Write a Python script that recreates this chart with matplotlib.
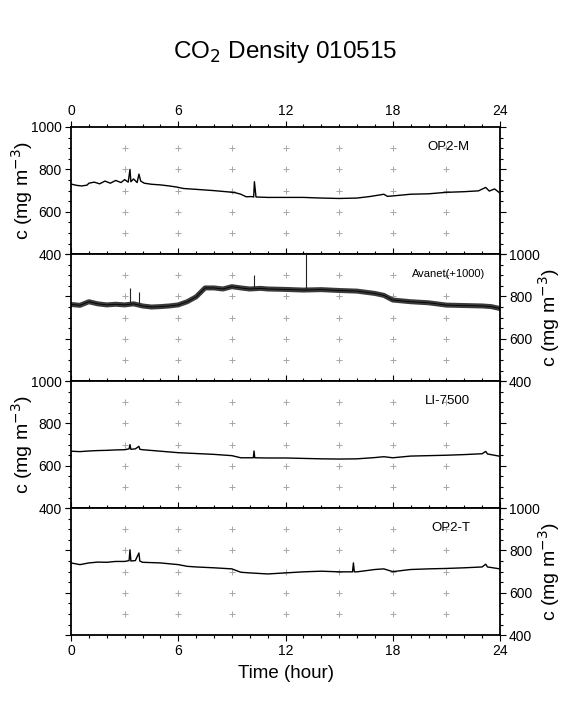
import matplotlib
matplotlib.use("Agg")
import matplotlib.pyplot as plt
import numpy as np
from matplotlib.ticker import MultipleLocator

plt.rcParams['font.family'] = ['Liberation Sans', 'DejaVu Sans']

# ---------------- data ----------------
title = "CO$_2$ Density 010515"
panel_names = ["OP2-M", "Avanet(+1000)", "LI-7500", "OP2-T"]
x_ticks = [0, 6, 12, 18, 24]
y_ticks = [400, 600, 800, 1000]

# OP2-M
t_m = [0, 0.3, 0.6, 0.9, 1.0, 1.3, 1.6, 1.9, 2.2, 2.5, 2.8, 3.0, 3.2, 3.3, 3.35, 3.5, 3.7, 3.8, 3.9, 4.1,
       4.5, 5.0, 5.5, 5.9, 6.3, 7.0, 8.0, 8.8, 9.2, 9.5, 9.8, 10.1, 10.22, 10.26, 10.35, 11.0, 12.0,
       13.0, 14.0, 15.0, 16.0, 16.7, 17.3, 17.5, 17.7, 18.0, 19.0, 20.0, 21.0, 22.0, 22.8, 23.2, 23.4, 23.7, 24.0]
c_m = [731, 725, 722, 726, 735, 740, 732, 745, 735, 748, 738, 752, 740, 800, 742, 755, 738, 778, 745, 735,
       730, 727, 722, 717, 710, 706, 700, 694, 690, 683, 671, 672, 670, 742, 670, 668, 668,
       668, 665, 663, 665, 672, 680, 683, 673, 675, 683, 685, 692, 695, 699, 715, 698, 708, 688]

# Avanet (+1000): band and its thin spikes
t_a = [0, 0.5, 1.0, 1.5, 2.0, 2.5, 3.0, 3.5, 4.0, 4.5, 5.0, 5.5, 6.0, 6.5, 7.0,
       7.5, 8.0, 8.5, 9.0, 9.5, 10.0, 10.6, 11.0, 12.0, 13.0, 14.0,
       15.0, 16.0, 17.0, 17.5, 18.0, 19.0, 20.0, 21.0, 22.0, 23.0, 23.5, 24.0]
c_a = [762, 758, 775, 765, 760, 763, 760, 765, 755, 750, 752, 755, 760, 775, 798,
       840, 840, 835, 846, 840, 835, 838, 835, 833, 830, 832,
       828, 825, 814, 805, 783, 775, 770, 759, 757, 755, 752, 743]
t_a_spk = [3.3, 3.8, 10.22, 13.16]
c_a_spk = [840, 820, 900, 1000]

# LI-7500
t_l = [0, 0.5, 1.0, 1.5, 2.0, 2.5, 3.0, 3.25, 3.3, 3.35, 3.6, 3.8, 3.85, 4.0, 5.0, 6.0, 7.0, 8.0, 9.0, 9.5,
       10.0, 10.2, 10.24, 10.28, 11.0, 12.0, 13.0, 14.0, 15.0, 16.0, 17.0, 17.5, 18.0, 19.0, 20.0, 21.0,
       22.0, 23.0, 23.2, 23.3, 24.0]
c_l = [669, 667, 670, 672, 673, 675, 676, 680, 700, 678, 680, 692, 678, 676, 669, 662, 658, 654, 648, 638,
       638, 638, 670, 638, 637, 637, 635, 633, 632, 633, 639, 643, 638, 646, 648, 650,
       653, 657, 668, 656, 645]

# OP2-T
t_t = [0, 0.5, 1.0, 1.5, 2.0, 2.5, 3.0, 3.25, 3.3, 3.35, 3.6, 3.8, 3.85, 4.0, 5.0, 6.0, 6.5, 7.0, 8.0, 9.0,
       9.5, 10.0, 11.0, 12.0, 13.0, 14.0, 15.0, 15.75, 15.8, 15.85, 16.0, 17.0, 17.5, 18.0, 19.0, 20.0,
       21.0, 22.0, 23.0, 23.2, 23.3, 24.0]
c_t = [741, 733, 741, 745, 744, 748, 748, 752, 803, 750, 752, 788, 750, 744, 741, 733, 725, 722, 718, 713,
       697, 694, 689, 694, 699, 702, 699, 699, 741, 699, 699, 710, 713, 700, 710, 713,
       715, 718, 722, 735, 722, 713]

series = [(t_m, c_m), (t_a, c_a), (t_l, c_l), (t_t, c_t)]
cross_x = [3, 6, 9, 12, 15, 18, 21]
cross_y = [500, 600, 700, 800, 900]

# ---------------- figure ----------------
W, H = 569, 709
fig = plt.figure(figsize=(W / 100, H / 100), dpi=100)
left_px, right_px = 71, 500
tops = [127, 254, 381, 508]
ph = 127.25

fig.text(285 / W, 1 - 52 / H, title, ha='center', va='center', fontsize=17.5)

axes = []
for i, (t, c) in enumerate(series):
    top = tops[i]
    ax = fig.add_axes([left_px / W, 1 - (top + ph) / H, (right_px - left_px) / W, ph / H])
    axes.append(ax)
    ax.set_xlim(0, 24)
    ax.set_ylim(400, 1000)
    # grid crosses
    gx = [x for x in cross_x for _ in cross_y]
    gy = [y for _ in cross_x for y in cross_y]
    ax.plot(gx, gy, linestyle='none', marker='+', markersize=5, color='#a8a8a8',
            markeredgewidth=0.7, zorder=1)
    if i == 1:
        ax.plot(t, c, color='#3a3a3a', lw=3.6, solid_joinstyle='round', zorder=2)
        ax.plot(t, c, color='black', lw=0.6, zorder=3)
        base = np.interp(t_a_spk, t, c)
        ax.vlines(t_a_spk, base, c_a_spk, color='#222222', lw=0.8, zorder=3)
    else:
        ax.plot(t, c, color='black', lw=1.0, zorder=2)
    label_kw = dict(transform=ax.transAxes, ha='right', va='center')
    if i == 1:
        ax.text(0.965, 0.84, panel_names[i], fontsize=8, **label_kw)
    else:
        ax.text(0.93, 0.84, panel_names[i], fontsize=9.5, **label_kw)

    ax.xaxis.set_minor_locator(MultipleLocator(1))
    ax.yaxis.set_minor_locator(MultipleLocator(50))
    ax.set_xticks(x_ticks)
    ax.set_yticks(y_ticks)
    ax.tick_params(which='both', direction='out', top=True, bottom=True, left=True, right=True,
                   labeltop=(i == 0), labelbottom=(i == 3),
                   labelleft=(i % 2 == 0), labelright=(i % 2 == 1),
                   labelsize=10, width=0.8, pad=2)
    ax.tick_params(which='major', length=4.5)
    ax.tick_params(which='minor', length=2.5)
    for s in ax.spines.values():
        s.set_linewidth(1.3)
    ylab = "c (mg m$^{-3}$)"
    if i % 2 == 0:
        ax.set_ylabel(ylab, fontsize=14)
        ax.yaxis.set_label_coords(-0.083, 0.5)
    else:
        ax.yaxis.set_label_position('right')
        ax.set_ylabel(ylab, fontsize=14, rotation=90)
        ax.yaxis.set_label_coords(1.084, 0.5)

axes[3].set_xlabel("Time (hour)", fontsize=13.5, labelpad=5)

fig.savefig("out.png", dpi=100)
